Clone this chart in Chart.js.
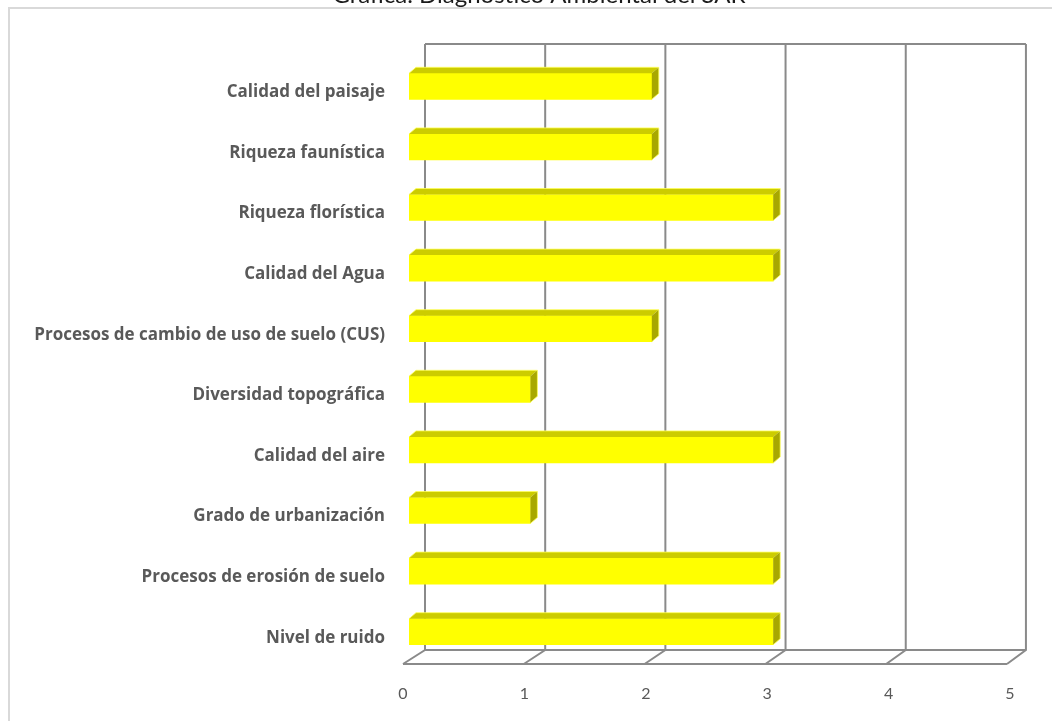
<!DOCTYPE html>
<html>
<head>
<meta charset="utf-8">
<title>Diagnóstico Ambiental del SAR</title>
<script src="https://cdn.jsdelivr.net/npm/chart.js@4/dist/chart.umd.min.js"></script>
<style>
  html, body { margin: 0; padding: 0; background: #ffffff; }
  #wrap { position: relative; width: 1052px; height: 721px; }
</style>
</head>
<body>
<div id="wrap"><canvas id="chart" width="1052" height="721"></canvas></div>
<script>
// Factores evaluados en el diagnóstico (de arriba hacia abajo)
const categories = [
  'Calidad del paisaje',
  'Riqueza faunística',
  'Riqueza florística',
  'Calidad del Agua',
  'Procesos de cambio de uso de suelo (CUS)',
  'Diversidad topográfica',
  'Calidad del aire',
  'Grado de urbanización',
  'Procesos de erosión de suelo',
  'Nivel de ruido'
];
// Valoración de cada factor
const values = [2, 2, 3, 3, 2, 1, 3, 1, 3, 3];
// Escala del eje de valores
const axisMin = 0;
const axisMax = 5;
const axisStep = 1;

const titleText = 'Gráfica. Diagnóstico Ambiental del SAR';

const GRID_COLOR = '#8a8a8a';
const FRAME_COLOR = '#d9d9d9';
const LABEL_COLOR = '#595959';
const BAR_FRONT = '#ffff00';
const BAR_TOP = '#cccc00';
const BAR_SIDE = '#a8a800';

// Perspective offsets for the pseudo-3D box and bars
const floorFront = { dx: -6, dy: 2, scale: 0.995 };
const floorBack = { dx: 16, dy: -12, scale: 0.99 };
const wallTopLift = 12;
const barDepth = { dx: 7, dy: -6 };

// Outer frame and the cropped title line
const framePlugin = {
  id: 'frame',
  beforeDraw(chart) {
    const ctx = chart.ctx;
    ctx.save();
    ctx.fillStyle = '#ffffff';
    ctx.fillRect(0, 0, chart.width, chart.height);
    ctx.strokeStyle = FRAME_COLOR;
    ctx.lineWidth = 2;
    ctx.beginPath();
    ctx.moveTo(chart.width, 8);
    ctx.lineTo(9, 8);
    ctx.lineTo(9, chart.height);
    ctx.stroke();
    ctx.fillStyle = '#1a1a1a';
    ctx.font = '24px Lato, "Open Sans", sans-serif';
    ctx.textAlign = 'center';
    ctx.textBaseline = 'alphabetic';
    ctx.fillText(titleText, 539, 3);
    ctx.restore();
  }
};

// Back wall, floor and gridlines of the 3D box
const boxPlugin = {
  id: 'box3d',
  beforeDatasetsDraw(chart) {
    const { ctx, chartArea } = chart;
    const xs = chart.scales.x;
    const bottom = chartArea.bottom;
    const wallTop = chartArea.top - wallTopLift;
    const backY = bottom + floorBack.dy;
    const frontY = bottom + floorFront.dy;
    const origin = xs.getPixelForValue(axisMin);
    const backX = v => origin + floorBack.dx + (xs.getPixelForValue(v) - origin) * floorBack.scale;
    const frontX = v => origin + floorFront.dx + (xs.getPixelForValue(v) - origin) * floorFront.scale;
    ctx.save();
    ctx.strokeStyle = GRID_COLOR;
    ctx.lineWidth = 2;
    const ticks = [];
    for (let v = axisMin; v <= axisMax; v += axisStep) ticks.push(v);
    ctx.beginPath();
    ticks.forEach(v => {
      ctx.moveTo(backX(v), wallTop);
      ctx.lineTo(backX(v), backY);
      ctx.lineTo(frontX(v), frontY);
    });
    ctx.moveTo(backX(axisMin), wallTop);
    ctx.lineTo(backX(axisMax), wallTop);
    ctx.moveTo(backX(axisMin), backY);
    ctx.lineTo(backX(axisMax), backY);
    ctx.moveTo(frontX(axisMin), frontY);
    ctx.lineTo(frontX(axisMax), frontY);
    ctx.stroke();
    ctx.restore();
  },
  afterDatasetsDraw(chart) {
    const ctx = chart.ctx;
    const meta = chart.getDatasetMeta(0);
    ctx.save();
    meta.data.forEach(bar => {
      const { x, y, base, height } = bar.getProps(['x', 'y', 'base', 'height'], true);
      const top = y - height / 2;
      const bot = y + height / 2;
      // top face
      ctx.fillStyle = BAR_TOP;
      ctx.beginPath();
      ctx.moveTo(base, top);
      ctx.lineTo(base + barDepth.dx, top + barDepth.dy);
      ctx.lineTo(x + barDepth.dx, top + barDepth.dy);
      ctx.lineTo(x, top);
      ctx.closePath();
      ctx.fill();
      // end face
      ctx.fillStyle = BAR_SIDE;
      ctx.beginPath();
      ctx.moveTo(x, top);
      ctx.lineTo(x + barDepth.dx, top + barDepth.dy);
      ctx.lineTo(x + barDepth.dx, bot + barDepth.dy);
      ctx.lineTo(x, bot);
      ctx.closePath();
      ctx.fill();
      // soft highlight edges
      ctx.strokeStyle = 'rgba(255,255,90,0.8)';
      ctx.lineWidth = 1;
      ctx.beginPath();
      ctx.moveTo(base, top);
      ctx.lineTo(base + barDepth.dx, top + barDepth.dy);
      ctx.lineTo(x + barDepth.dx, top + barDepth.dy);
      ctx.lineTo(x + barDepth.dx, bot + barDepth.dy);
      ctx.lineTo(x, bot);
      ctx.stroke();
    });
    ctx.restore();
  }
};

new Chart(document.getElementById('chart'), {
  type: 'bar',
  data: {
    labels: categories,
    datasets: [{
      data: values,
      backgroundColor: BAR_FRONT,
      borderWidth: 0,
      barThickness: 26
    }]
  },
  options: {
    indexAxis: 'y',
    responsive: false,
    animation: false,
    events: [],
    layout: { padding: { top: 56, right: 36, bottom: 11, left: 0 } },
    plugins: {
      legend: { display: false },
      title: { display: false },
      tooltip: { enabled: false }
    },
    scales: {
      x: {
        min: axisMin,
        max: axisMax,
        ticks: {
          stepSize: axisStep,
          color: LABEL_COLOR,
          font: { family: 'Lato, "Open Sans", sans-serif', size: 16 },
          padding: 14,
          labelOffset: -6
        },
        grid: { display: false },
        border: { display: false },
        afterFit(scale) { scale.height = 48; }
      },
      y: {
        ticks: {
          color: LABEL_COLOR,
          font: { family: '"Open Sans", Lato, sans-serif', size: 17, weight: 'bold' },
          padding: 16,
          labelOffset: 6
        },
        grid: { display: false },
        border: { display: false },
        afterFit(scale) { scale.width = 409; }
      }
    }
  },
  plugins: [framePlugin, boxPlugin]
});
</script>
</body>
</html>
